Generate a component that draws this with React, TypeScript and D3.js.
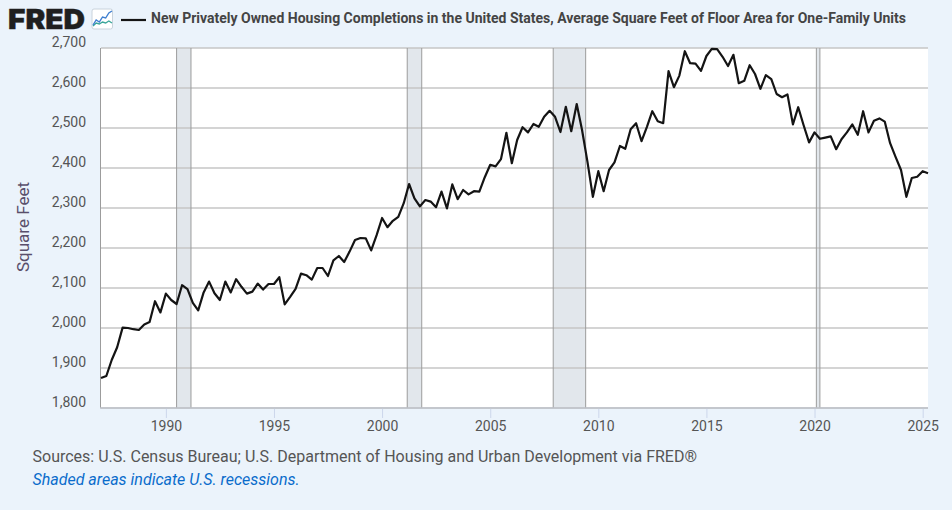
import { useEffect, useRef } from "react";
import * as d3 from "d3";

const TITLE = "New Privately Owned Housing Completions in the United States, Average Square Feet of Floor Area for One-Family Units";
const SOURCE = "Sources: U.S. Census Bureau; U.S. Department of Housing and Urban Development via FRED®";
const NOTE = "Shaded areas indicate U.S. recessions.";
const Y_LABEL = "Square Feet";

const START_YEAR = 1987;
// quarterly, 1987 Q1 to 2025 Q2
const sqft = [
    1875, 1880, 1920, 1952, 2001, 2000, 1997, 1995, 2009, 2015, 2067, 2039, 2086, 2070, 2060, 2107,
    2097, 2063, 2044, 2089, 2116, 2087, 2070, 2116, 2089, 2122, 2103, 2086, 2091, 2111, 2096, 2110,
    2110, 2127, 2059, 2078, 2098, 2136, 2132, 2121, 2150, 2150, 2130, 2169, 2180, 2165, 2191, 2220,
    2225, 2224, 2194, 2232, 2275, 2252, 2268, 2278, 2312, 2360, 2324, 2304, 2320, 2316, 2302, 2341,
    2299, 2359, 2322, 2345, 2334, 2342, 2341, 2377, 2408, 2404, 2422, 2488, 2412, 2470, 2502, 2489,
    2510, 2503, 2528, 2543, 2528, 2490, 2553, 2492, 2560, 2495, 2416, 2328, 2392, 2342, 2395, 2414,
    2455, 2448, 2497, 2512, 2467, 2503, 2542, 2517, 2512, 2642, 2602, 2631, 2692, 2662, 2661, 2643,
    2680, 2698, 2697, 2678, 2655, 2683, 2612, 2618, 2657, 2635, 2598, 2632, 2622, 2585, 2577, 2584,
    2509, 2552, 2507, 2464, 2489, 2473, 2476, 2479, 2447, 2472, 2489, 2509, 2483, 2542, 2489, 2518,
    2524, 2516, 2462, 2428, 2395, 2328, 2375, 2378, 2392, 2387,
];

const recessionStarts = [ "1990-07-01", "2001-03-01", "2007-12-01", "2020-02-01" ];
const recessionEnds = [ "1991-03-01", "2001-11-01", "2009-06-01", "2020-04-01" ];

const yTicks = [ 1800, 1900, 2000, 2100, 2200, 2300, 2400, 2500, 2600, 2700 ];
const xTickYears = [ 1990, 1995, 2000, 2005, 2010, 2015, 2020, 2025 ];

// little chart badge next to the logo
const badgeBlue = [ 3, 8, 6, 11, 10, 15, 17 ];
const badgeGreen = [ 2, 5, 4, 6, 5, 7, 5 ];

const FONT = "Roboto, sans-serif";
const BG = "#ebf3fb";

export default function App ()
{
    const svgRef = useRef<SVGSVGElement>( null );

    useEffect( () =>
    {
        if ( !svgRef.current ) return;
        const svg = d3.select( svgRef.current );
        svg.selectAll( "*" ).remove();

        const dates = sqft.map( ( _, i ) => new Date( Date.UTC( START_YEAR, i * 3, 1 ) ) );
        const x = d3.scaleUtc().domain( [ dates[ 0 ], dates[ dates.length - 1 ] ] ).range( [ 101, 928 ] );
        const y = d3.scaleLinear().domain( [ 1800, 2700 ] ).range( [ 408, 48 ] );

        svg.append( "rect" ).attr( "width", 952 ).attr( "height", 510 ).attr( "fill", BG );

        // Plot background
        svg.append( "rect" ).attr( "x", 101 ).attr( "y", 48 ).attr( "width", 827 ).attr( "height", 360 ).attr( "fill", "#fff" );

        // Recessions
        recessionStarts.forEach( ( s, i ) =>
        {
            const x0 = x( new Date( s ) ), x1 = x( new Date( recessionEnds[ i ] ) );
            svg.append( "rect" ).attr( "x", x0 ).attr( "y", 48 ).attr( "width", x1 - x0 ).attr( "height", 360 ).attr( "fill", "#e2e7ec" );
        } );

        // Grid
        svg.append( "g" ).selectAll( "line" ).data( yTicks ).join( "line" )
            .attr( "x1", 101 ).attr( "x2", 928 )
            .attr( "y1", ( d ) => y( d ) ).attr( "y2", ( d ) => y( d ) )
            .attr( "stroke", "#c6c6c6" ).attr( "stroke-width", 1.7 );

        // Recession edges go over the grid
        recessionStarts.forEach( ( s, i ) =>
        {
            [ s, recessionEnds[ i ] ].forEach( ( d ) =>
            {
                const px = x( new Date( d ) );
                svg.append( "line" ).attr( "x1", px ).attr( "x2", px ).attr( "y1", 48 ).attr( "y2", 408 )
                    .attr( "stroke", "#9c9c9c" ).attr( "stroke-width", 1 );
            } );
        } );

        // Axes
        const xAxis = svg.append( "g" ).attr( "transform", "translate(0,408)" )
            .call( d3.axisBottom( x )
                .tickValues( xTickYears.map( ( yr ) => new Date( Date.UTC( yr, 0, 1 ) ) ) )
                .tickFormat( ( d ) => String( ( d as Date ).getUTCFullYear() ) )
                .tickSize( 10 ).tickPadding( 3 ) );
        xAxis.select( ".domain" ).remove();
        xAxis.selectAll( "line" ).attr( "stroke", "#ccd6eb" );
        xAxis.selectAll( "text" ).attr( "fill", "#555" ).style( "font-size", "14px" ).style( "font-family", FONT );

        const yAxis = svg.append( "g" ).attr( "transform", "translate(101,0)" )
            .call( d3.axisLeft( y ).tickValues( yTicks ).tickFormat( d3.format( "," ) as any ).tickSize( 0 ).tickPadding( 15 ) );
        yAxis.select( ".domain" ).remove();
        yAxis.selectAll( "text" ).attr( "fill", "#555" ).attr( "dy", "-0.14em" ).style( "font-size", "14px" ).style( "font-family", FONT );

        svg.append( "line" ).attr( "x1", 100.5 ).attr( "x2", 100.5 ).attr( "y1", 48 ).attr( "y2", 408 ).attr( "stroke", "#9c9c9c" );
        svg.append( "line" ).attr( "x1", 100 ).attr( "x2", 928 ).attr( "y1", 408 ).attr( "y2", 408 ).attr( "stroke", "#bfc3cb" ).attr( "stroke-width", 1.5 );

        // Line
        const line = d3.line<number>().x( ( _, i ) => x( dates[ i ] ) ).y( ( d ) => y( d ) );
        svg.append( "path" ).datum( sqft ).attr( "d", line ).attr( "fill", "none" )
            .attr( "stroke", "#141414" ).attr( "stroke-width", 2.2 ).attr( "stroke-linejoin", "round" );

        // Axis title
        svg.append( "text" ).attr( "transform", "translate(29,227) rotate(-90)" ).attr( "text-anchor", "middle" )
            .text( Y_LABEL ).attr( "fill", "#594f6b" ).style( "font-size", "17px" ).style( "font-family", FONT );

        // Header: logo, badge, legend key, title
        svg.append( "text" ).attr( "x", 8 ).attr( "y", 29 ).text( "FRED" ).attr( "fill", "#1f1f1f" )
            .attr( "stroke", "#1f1f1f" ).attr( "stroke-width", 0.4 )
            .attr( "textLength", 77 ).attr( "lengthAdjust", "spacingAndGlyphs" )
            .style( "font-size", "27.5px" ).style( "font-weight", 900 ).style( "font-family", "Inter, sans-serif" );

        const badge = svg.append( "g" ).attr( "transform", "translate(92,9)" );
        badge.append( "rect" ).attr( "width", 20.5 ).attr( "height", 20 ).attr( "rx", 2 ).attr( "fill", "#fff" ).attr( "stroke", "#c9d3dc" );
        const bx = d3.scaleLinear().domain( [ 0, 6 ] ).range( [ 1, 20 ] );
        const by = d3.scaleLinear().domain( [ 0, 18 ] ).range( [ 19, 1 ] );
        const badgeLine = d3.line<number>().x( ( _, i ) => bx( i ) ).y( ( d ) => by( d ) );
        badge.append( "path" ).datum( badgeGreen ).attr( "d", badgeLine ).attr( "fill", "none" ).attr( "stroke", "#3aa69a" ).attr( "stroke-width", 1.4 );
        badge.append( "path" ).datum( badgeBlue ).attr( "d", badgeLine ).attr( "fill", "none" ).attr( "stroke", "#3f7fd0" ).attr( "stroke-width", 1.4 );

        svg.append( "line" ).attr( "x1", 121 ).attr( "x2", 146 ).attr( "y1", 20 ).attr( "y2", 20 ).attr( "stroke", "#141414" ).attr( "stroke-width", 2.2 );
        svg.append( "text" ).attr( "x", 151 ).attr( "y", 23 ).text( TITLE ).attr( "fill", "#444" )
            .style( "font-size", "14px" ).style( "font-weight", 700 ).style( "font-family", FONT );

        // Footer
        svg.append( "text" ).attr( "x", 32.5 ).attr( "y", 462 ).text( SOURCE ).attr( "fill", "#555" )
            .style( "font-size", "16px" ).style( "font-family", FONT );
        svg.append( "text" ).attr( "x", 32.5 ).attr( "y", 485 ).text( NOTE ).attr( "fill", "#0a6ccb" )
            .style( "font-size", "16px" ).style( "font-style", "italic" ).style( "font-family", FONT );
    }, [] );

    return (
        <svg ref={ svgRef } width={ 952 } height={ 510 } style={ { position: "absolute", left: 0, top: 0, display: "block" } } />
    );
}
